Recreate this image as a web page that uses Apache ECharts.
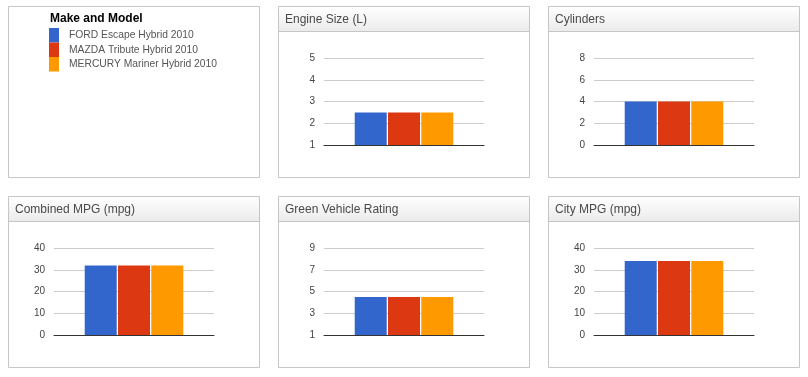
<!DOCTYPE html>
<html>
<head>
<meta charset="utf-8">
<script src="https://cdn.jsdelivr.net/npm/echarts@6/dist/echarts.min.js"></script>
<style>
html,body{margin:0;padding:0;background:#fff;}
#c{width:808px;height:377px;}
</style>
</head>
<body>
<div id="c"></div>
<script>
// ---- data ----
const makes = ['FORD Escape Hybrid 2010', 'MAZDA Tribute Hybrid 2010', 'MERCURY Mariner Hybrid 2010'];
const legendTitle = 'Make and Model';
const chartTitles = ['Engine Size (L)', 'Cylinders', 'Combined MPG (mpg)', 'Green Vehicle Rating', 'City MPG (mpg)'];
const engineSize = [2.5, 2.5, 2.5];
const cylinders = [4, 4, 4];
const combinedMpg = [32, 32, 32];
const greenRating = [4.5, 4.5, 4.5];
const cityMpg = [34, 34, 34];
const engineTicks = [1, 2, 3, 4, 5];
const cylinderTicks = [0, 2, 4, 6, 8];
const combinedTicks = [0, 10, 20, 30, 40];
const greenTicks = [1, 3, 5, 7, 9];
const cityTicks = [0, 10, 20, 30, 40];

// ---- layout / style ----
const FONT = 'Arial, "Liberation Sans", sans-serif';
const colors = ['#3366cc', '#dc3912', '#ff9900'];
const panelW = 251, panelH = 171;
const colX = [8, 278, 548];
const rowY = [6, 196];
const charts = [
  {title: chartTitles[0], values: engineSize, ticks: engineTicks, col: 1, row: 0},
  {title: chartTitles[1], values: cylinders, ticks: cylinderTicks, col: 2, row: 0},
  {title: chartTitles[2], values: combinedMpg, ticks: combinedTicks, col: 0, row: 1},
  {title: chartTitles[3], values: greenRating, ticks: greenTicks, col: 1, row: 1},
  {title: chartTitles[4], values: cityMpg, ticks: cityTicks, col: 2, row: 1}
];

const graphics = [];
// legend panel
graphics.push({type: 'rect', z: -10, shape: {x: colX[0] + 0.5, y: rowY[0] + 0.5, width: panelW, height: panelH},
  style: {fill: '#fff', stroke: '#c6c6c6', lineWidth: 1}});

const titles = [{
  text: legendTitle, left: 50, top: 13, padding: 0,
  textStyle: {fontFamily: FONT, fontSize: 12, fontWeight: 'bold', color: '#000'}
}];
const grids = [], xAxes = [], yAxes = [], series = [];

charts.forEach((c, i) => {
  const px = colX[c.col], py = rowY[c.row];
  graphics.push({type: 'rect', z: -10, shape: {x: px + 0.5, y: py + 0.5, width: panelW, height: panelH},
    style: {fill: '#fff', stroke: '#c6c6c6', lineWidth: 1}});
  graphics.push({type: 'rect', z: -9, shape: {x: px + 1, y: py + 1, width: panelW - 1, height: 24},
    style: {fill: new echarts.graphic.LinearGradient(0, 0, 0, 1, [
      {offset: 0, color: '#ffffff'}, {offset: 1, color: '#ebebeb'}])}});
  graphics.push({type: 'line', z: -8, shape: {x1: px, y1: py + 25.5, x2: px + panelW + 1, y2: py + 25.5},
    style: {stroke: '#c6c6c6', lineWidth: 1}});
  titles.push({
    text: c.title, left: px + 7, top: py + 8, padding: 0,
    textStyle: {fontFamily: FONT, fontSize: 12, fontWeight: 'normal', color: '#4a4a4a'}
  });
  grids.push({left: px + 46, top: py + 52, width: 160, height: 87, containLabel: false});
  xAxes.push({
    type: 'category', gridIndex: i, data: [''],
    axisLine: {show: true, lineStyle: {color: '#333', width: 1}},
    axisTick: {show: false}, axisLabel: {show: false}, splitLine: {show: false}
  });
  const t = c.ticks;
  yAxes.push({
    type: 'value', gridIndex: i, min: t[0], max: t[t.length - 1], interval: t[1] - t[0],
    axisLine: {show: false}, axisTick: {show: false},
    axisLabel: {margin: 9, fontFamily: FONT, fontSize: 10, color: '#444'},
    splitLine: {show: true, lineStyle: {color: '#cccccc', width: 1}}
  });
  makes.forEach((m, j) => {
    series.push({
      type: 'bar', name: m, xAxisIndex: i, yAxisIndex: i,
      data: [c.values[j]], barWidth: 32, barGap: '4%',
      itemStyle: {color: colors[j]}, silent: true, animation: false
    });
  });
});

const chart = echarts.init(document.getElementById('c'), null, {renderer: 'canvas'});
chart.setOption({
  backgroundColor: '#fff',
  animation: false,
  color: colors,
  title: titles,
  legend: {
    data: makes, orient: 'vertical', left: 49, top: 28, padding: 0,
    icon: 'rect', itemWidth: 10, itemHeight: 14.5, itemGap: 0,
    selectedMode: false,
    textStyle: {fontFamily: FONT, fontSize: 10.3, color: '#555', padding: [0, 0, 0, 5]}
  },
  grid: grids,
  xAxis: xAxes,
  yAxis: yAxes,
  series: series,
  graphic: {elements: graphics}
});
</script>
</body>
</html>
